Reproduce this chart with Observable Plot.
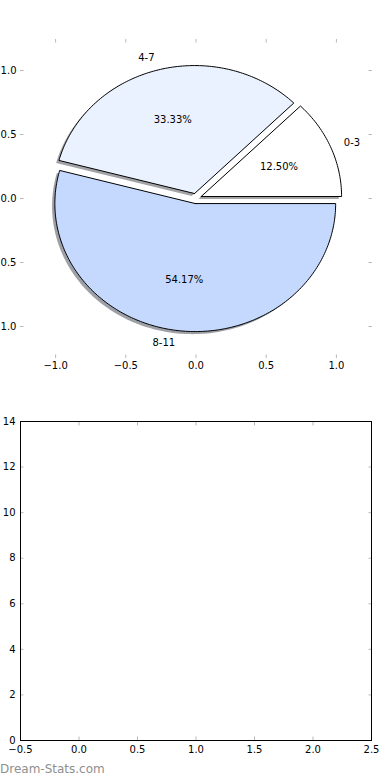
<!DOCTYPE html>
<html><head><meta charset="utf-8">
<script src="https://cdn.jsdelivr.net/npm/d3@7"></script>
<script src="https://cdn.jsdelivr.net/npm/@observablehq/plot@0.6"></script>
<style>
body{margin:0;background:#fff;}
#wrap{position:relative;width:390px;height:780px;overflow:hidden;font-family:"DejaVu Sans";background:#fff;}
#c1{position:absolute;left:0;top:0}
#c2{position:absolute;left:0;top:390px}
#wm{position:absolute;left:0;top:763px;font:12px/12px "DejaVu Sans";color:#8f8f8f;white-space:nowrap}
</style></head><body>
<div id="wrap"><div id="c1"></div><div id="c2"></div><div id="wm">Dream-Stats.com</div></div>
<script>
// ---- data ----
const categories = ["0-3", "4-7", "8-11"];
const counts = [3, 8, 13];
const colors = ["#ffffff", "#eaf1ff", "#c5d9ff"];
const explode = [0.04, 0.04, 0.04];
const pieTicks = [-1.0, -0.5, 0.0, 0.5, 1.0];
const barXTicks = [-0.5, 0.0, 0.5, 1.0, 1.5, 2.0, 2.5];
const barYTicks = [0, 2, 4, 6, 8, 10, 12, 14];

// ---- pie geometry (matplotlib-style: startangle 0, counter-clockwise) ----
const total = d3.sum(counts);
let acc = 0;
const slices = categories.map((c, i) => {
  const a0 = acc / total * 2 * Math.PI; acc += counts[i];
  const a1 = acc / total * 2 * Math.PI;
  const mid = (a0 + a1) / 2;
  const cx = explode[i] * Math.cos(mid), cy = explode[i] * Math.sin(mid);
  const n = Math.max(2, Math.ceil((a1 - a0) / (Math.PI / 180)));
  const pts = [{x: cx, y: cy}];
  for (let k = 0; k <= n; k++) {
    const a = a0 + (a1 - a0) * k / n;
    pts.push({x: cx + Math.cos(a), y: cy + Math.sin(a)});
  }
  pts.push({x: cx, y: cy});
  const c0 = d3.rgb(colors[i]);
  const shadow = d3.rgb(c0.r * 0.3, c0.g * 0.3, c0.b * 0.3).formatHex();
  return {
    label: c, i, pts, shadow,
    lx: cx + 1.1 * Math.cos(mid), ly: cy + 1.1 * Math.sin(mid),
    px: cx + 0.6 * Math.cos(mid), py: cy + 0.6 * Math.sin(mid),
    pct: d3.format(".2f")(counts[i] / total * 100) + "%"
  };
});

const fmt1 = d3.format(".1f");
const tickColor = "#b8b8b8";
const ts = 3.5;

const pie = Plot.plot({
  width: 390, height: 390,
  marginLeft: 20, marginRight: 19, marginTop: 38, marginBottom: 32,
  x: {domain: [-1.25, 1.25]},
  y: {domain: [-1.25, 1.25]},
  style: {fontFamily: "DejaVu Sans", fontSize: "10px", color: "black", background: "transparent"},
  marks: [
    ...slices.map(s => Plot.line(s.pts, {x: d => d.x - 0.02, y: d => d.y - 0.02, fill: s.shadow, fillOpacity: 0.5, stroke: "none"})),
    ...slices.map(s => Plot.line(s.pts, {x: "x", y: "y", fill: colors[s.i], stroke: "black", strokeWidth: 1, strokeLinejoin: "miter"})),
    Plot.text(slices.filter(s => s.lx >= 0), {x: "lx", y: "ly", text: "label", textAnchor: "start", fill: "black"}),
    Plot.text(slices.filter(s => s.lx < 0), {x: "lx", y: "ly", text: "label", textAnchor: "end", fill: "black"}),
    Plot.text(slices, {x: "px", y: "py", text: "pct", fill: "black"}),
    Plot.axisX(pieTicks, {anchor: "bottom", tickSize: ts, dy: -ts, stroke: tickColor, fill: "none", label: null}),
    Plot.axisX(pieTicks, {anchor: "top", tickSize: ts, dy: ts, stroke: tickColor, fill: "none", label: null}),
    Plot.axisY(pieTicks, {anchor: "left", tickSize: ts, dx: ts, stroke: tickColor, fill: "none", label: null}),
    Plot.axisY(pieTicks, {anchor: "right", tickSize: ts, dx: -ts, stroke: tickColor, fill: "none", label: null}),
    Plot.axisX(pieTicks, {anchor: "bottom", tickSize: 0, tickPadding: 3, tickFormat: fmt1, label: null}),
    Plot.axisY(pieTicks, {anchor: "left", tickSize: 0, tickPadding: 4, tickFormat: fmt1, label: null})
  ]
});
document.getElementById("c1").appendChild(pie);

const bars = Plot.plot({
  width: 390, height: 390,
  marginLeft: 20, marginRight: 19, marginTop: 31, marginBottom: 40,
  x: {domain: [-0.5, 2.5]},
  y: {domain: [0, 14]},
  style: {fontFamily: "DejaVu Sans", fontSize: "10px", color: "black", background: "transparent"},
  marks: [
    Plot.axisX(barXTicks, {anchor: "bottom", tickSize: ts, dy: -ts, stroke: tickColor, fill: "none", label: null}),
    Plot.axisX(barXTicks, {anchor: "top", tickSize: ts, dy: ts, stroke: tickColor, fill: "none", label: null}),
    Plot.axisY(barYTicks, {anchor: "left", tickSize: ts, dx: ts, stroke: tickColor, fill: "none", label: null}),
    Plot.axisY(barYTicks, {anchor: "right", tickSize: ts, dx: -ts, stroke: tickColor, fill: "none", label: null}),
    Plot.frame({stroke: "black", strokeWidth: 1}),
    Plot.axisX(barXTicks, {anchor: "bottom", tickSize: 0, tickPadding: 5, tickFormat: fmt1, label: null}),
    Plot.axisY(barYTicks, {anchor: "left", tickSize: 0, tickPadding: 5, tickFormat: d3.format("d"), label: null})
  ]
});
document.getElementById("c2").appendChild(bars);
</script>
</body></html>
